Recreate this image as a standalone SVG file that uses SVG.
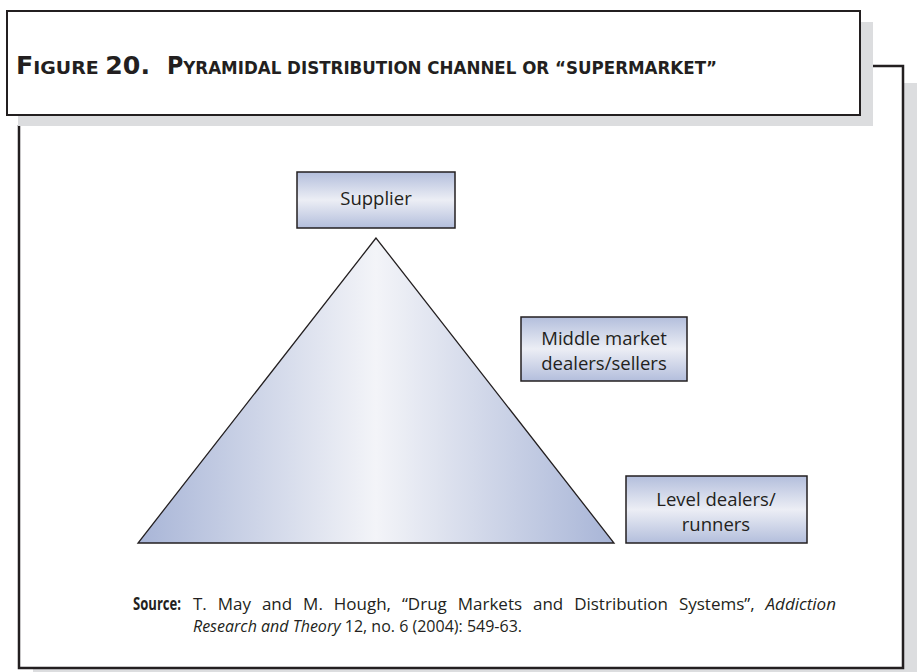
<svg xmlns="http://www.w3.org/2000/svg" width="917" height="672" viewBox="0 0 917 672">
<defs>
<linearGradient id="boxGrad" x1="0" y1="0" x2="0" y2="1">
<stop offset="0" stop-color="#b3bedc"/>
<stop offset="0.5" stop-color="#eceef5"/>
<stop offset="1" stop-color="#b3bedc"/>
</linearGradient>
<linearGradient id="triGrad" x1="0" y1="0" x2="1" y2="0">
<stop offset="0" stop-color="#a8b5d7"/>
<stop offset="0.5" stop-color="#f3f4f8"/>
<stop offset="1" stop-color="#a8b5d7"/>
</linearGradient>
<style>
.shadow{fill:#dcdddf}
.frame{fill:none;stroke:#231f20;stroke-width:2.5}
.box{fill:url(#boxGrad);stroke:#231f20;stroke-width:1.5}
.lbl{font-family:"Open Sans","Noto Sans","Liberation Sans",sans-serif;font-size:18.5px;fill:#231f20;text-anchor:middle}
.title{font-family:"DejaVu Sans Condensed","DejaVu Sans","Liberation Sans",sans-serif;fill:#231f20;font-weight:bold}
.src{font-family:"Open Sans","Noto Sans","Liberation Sans",sans-serif;font-size:17px;fill:#231f20}
</style>
</defs>
<rect width="917" height="672" fill="#ffffff"/>
<rect class="shadow" x="904" y="83" width="13" height="589"/>
<rect class="shadow" x="33" y="669" width="884" height="3"/>
<polyline class="frame" points="872,66 903,66 903,668 19,668 19,125"/>
<g id="title">
<rect class="shadow" x="18" y="22" width="855" height="104"/>
<rect x="7" y="11" width="853" height="104" fill="#ffffff" stroke="#231f20" stroke-width="2"/>
<text class="title" x="16" y="74" textLength="134" lengthAdjust="spacingAndGlyphs"><tspan font-size="24">F</tspan><tspan font-size="18">IGURE </tspan><tspan font-size="24">20.</tspan></text>
<text class="title" x="167" y="74" textLength="550" lengthAdjust="spacingAndGlyphs"><tspan font-size="24">P</tspan><tspan font-size="18">YRAMIDAL DISTRIBUTION CHANNEL OR “SUPERMARKET”</tspan></text>
</g>
<g id="pyramid">
<polygon points="376,238 138,543 614,543" fill="url(#triGrad)" stroke="#231f20" stroke-width="1.3"/>
</g>
<g id="supplier">
<rect class="box" x="297" y="172" width="158" height="56"/>
<text class="lbl" x="376" y="205">Supplier</text>
</g>
<g id="middle">
<rect class="box" x="521" y="317" width="166" height="64"/>
<text class="lbl" x="604" y="345">Middle market</text>
<text class="lbl" x="604" y="370">dealers/sellers</text>
</g>
<g id="level">
<rect class="box" x="626" y="476" width="181" height="67"/>
<text class="lbl" x="716" y="506">Level dealers/</text>
<text class="lbl" x="716" y="531">runners</text>
</g>
<g id="connectors"></g>
<g id="source">
<text class="src" x="133" y="610" font-weight="bold" textLength="48" lengthAdjust="spacingAndGlyphs">Source:</text>
<text class="src" x="193" y="610" word-spacing="6.5">T. May and M. Hough, “Drug Markets and Distribution Systems”, <tspan font-style="italic">Addiction</tspan></text>
<text class="src" x="193" y="632" textLength="329" lengthAdjust="spacingAndGlyphs"><tspan font-style="italic">Research and Theory</tspan> 12, no. 6 (2004): 549-63.</text>
</g>
</svg>
